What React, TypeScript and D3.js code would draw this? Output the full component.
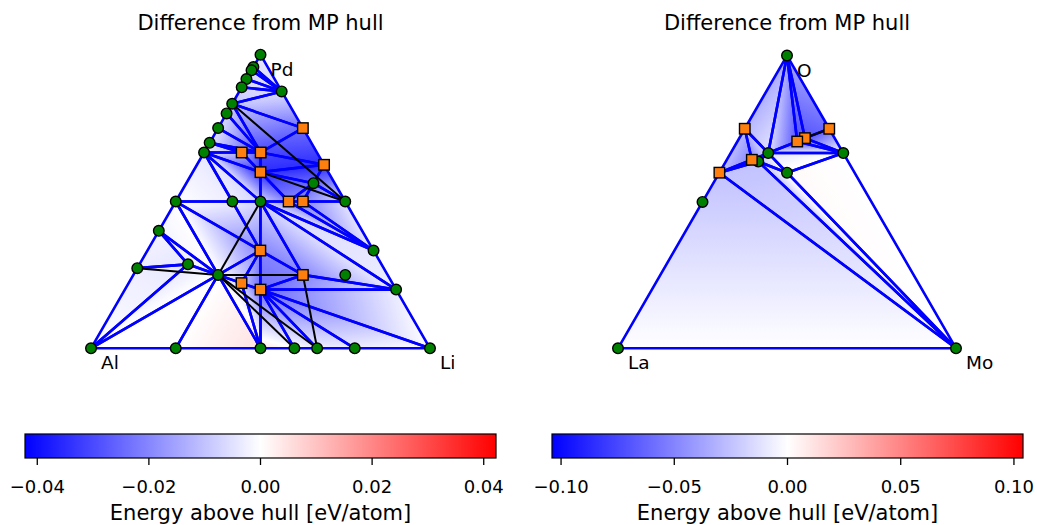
import React from 'react';
import * as d3 from 'd3';

// Al-Li-Pd panel: composition of each phase (Li and Pd fractions, Al is the rest)
const alLiPdLi = [
  0, 1, 0, 0, 0, 0, 0, 0, 0, 0, 0, 0, 0, 0, 0,
  0.125, 0.5, 0.667, 0.8, 0.25, 0.5, 0.6, 0.667, 0.778,
  0.25, 0.167, 0.143, 0.25, 0.625, 0.375,
  0.25, 0.375, 0.111, 0.167, 0.2, 0.333, 0.375, 0.333, 0.5, 0.4, 0.333,
];
const alLiPdPd = [
  0, 0, 1, 0.958, 0.947, 0.917, 0.889, 0.833, 0.8, 0.75, 0.7, 0.667, 0.5, 0.4, 0.273,
  0.875, 0.5, 0.333, 0.2, 0, 0, 0, 0, 0,
  0.5, 0.5, 0.286, 0.25, 0.25, 0.5625,
  0.75, 0.625, 0.667, 0.667, 0.6, 0.5, 0.5, 0.333, 0.25, 0.2, 0.222,
];
// 1 = new phase (square), 0 = MP phase (circle)
const alLiPdNew = [
  0, 0, 0, 0, 0, 0, 0, 0, 0, 0, 0, 0, 0, 0, 0,
  0, 0, 0, 0, 0, 0, 0, 0, 0,
  0, 0, 0, 0, 0, 0,
  1, 1, 1, 1, 1, 1, 1, 1, 1, 1, 1,
];
const alLiPdDiff = [
  0, 0, -0.004, -0.006, -0.006, -0.006, -0.007, -0.009, -0.007, -0.005, -0.004, -0.004, 0, -0.002, -0.003,
  -0.005, -0.005, -0.004, -0.003, 0, 0.005, 0, -0.003, -0.003,
  -0.007, -0.003, -0.004, 0, -0.006, -0.024,
  -0.024, -0.035, -0.012, -0.03, -0.035, -0.02, -0.02, -0.02, -0.02, -0.025, -0.008,
];
const alLiPdTriangles = [
  [2, 3, 15], [3, 4, 15], [4, 5, 15], [5, 6, 15], [6, 7, 15], [7, 15, 30],
  [7, 30, 33], [7, 8, 33], [8, 9, 33], [9, 10, 33], [10, 32, 33], [10, 11, 32],
  [30, 31, 33], [11, 32, 34], [32, 33, 34], [33, 31, 34], [34, 31, 29],
  [31, 29, 16], [29, 36, 16], [34, 29, 35], [29, 36, 35], [34, 35, 24],
  [34, 24, 11], [11, 24, 25], [11, 25, 12],
  [12, 13, 27], [13, 26, 27], [13, 14, 26], [14, 0, 26], [0, 26, 27], [0, 19, 27],
  [19, 20, 27], [27, 40, 20], [40, 39, 20], [39, 20, 21], [39, 21, 22], [39, 22, 23],
  [39, 23, 1], [39, 1, 18], [39, 18, 38], [38, 18, 24], [24, 18, 17], [24, 35, 17],
  [35, 36, 17], [36, 16, 17], [24, 37, 38], [37, 38, 39], [37, 39, 40], [27, 37, 40],
  [12, 27, 37], [12, 37, 25], [25, 37, 24],
];
const alLiPdMpEdges = [
  [7, 16], [34, 16], [24, 27], [27, 38], [27, 21], [27, 22], [38, 22], [14, 27],
];
const alLiPdCorners = ['Al', 'Li', 'Pd'];
const alLiPdTicks = [-0.04, -0.02, 0, 0.02, 0.04];
const alLiPdRange = 0.0422;

// La-Mo-O panel: Mo and O fractions, La is the rest
const laMoOMo = [0, 1, 0, 0, 0.25, 0.194, 0.177, 0.111, 0.333, 0.074, 0.096, 0, 0.2, 0];
const laMoOO = [0, 0, 1, 0.75, 0.75, 0.718, 0.7065, 0.667, 0.667, 0.644, 0.638, 0.6, 0.6, 0.5];
const laMoONew = [0, 0, 0, 1, 1, 1, 1, 0, 0, 1, 0, 1, 0, 0];
const laMoODiff = [0, 0, -0.035, -0.03, -0.06, -0.07, -0.07, -0.012, 0, -0.05, -0.025, -0.025, 0.002, -0.02];
const laMoOTriangles = [
  [2, 3, 7], [2, 7, 6], [2, 6, 5], [2, 5, 4], [5, 8, 4], [6, 8, 5], [7, 8, 6],
  [3, 7, 9], [3, 9, 11], [9, 7, 10], [7, 12, 10], [7, 8, 12], [12, 8, 1],
  [10, 12, 1], [11, 10, 1], [11, 9, 10], [0, 11, 1],
];
const laMoOMpEdges = [[5, 4]];
const laMoOCorners = ['La', 'Mo', 'O'];
const laMoOTicks = [-0.1, -0.05, 0, 0.05, 0.1];
const laMoORange = 0.104;

const FONT = 'DejaVu Sans, sans-serif';

function Panel({ id, left, side, a, b, isNew, diff, tris, mpEdges, corners, ticks, vmax, cbLeft, cbRight }) {
  const base = 348.3;
  const x = d3.scaleLinear().domain([0, 1]).range([left, left + side]);
  const y = d3.scaleLinear().domain([0, 1]).range([base, base - (side * Math.sqrt(3)) / 2]);
  const pts = a.map((ai, i) => [x(ai + b[i] / 2), y(b[i])]);
  const color = d3
    .scaleLinear<string>()
    .domain([-vmax, 0, vmax])
    .range(['#0000ff', '#ffffff', '#ff0000'])
    .clamp(true);
  const line = d3.line();

  // each triangle is filled with a linear gradient that follows the linear
  // interpolation of the vertex values (Gouraud-like shading)
  const shades = tris.map((t, n) => {
    const [p0, p1, p2] = t.map((i) => pts[i]);
    const [f0, f1, f2] = t.map((i) => diff[i]);
    const e1x = p1[0] - p0[0], e1y = p1[1] - p0[1];
    const e2x = p2[0] - p0[0], e2y = p2[1] - p0[1];
    const d1 = f1 - f0, d2 = f2 - f0;
    const det = e1x * e2y - e1y * e2x;
    const gx = (d1 * e2y - d2 * e1y) / det;
    const gy = (e1x * d2 - e2x * d1) / det;
    const gg = gx * gx + gy * gy;
    const path = line([p0, p1, p2]) + 'Z';
    if (!isFinite(gg) || gg < 1e-14) {
      return { path, fill: color(f0), grad: null };
    }
    const fmin = Math.min(f0, f1, f2), fmax = Math.max(f0, f1, f2);
    const s = [p0[0] + (gx * (fmin - f0)) / gg, p0[1] + (gy * (fmin - f0)) / gg];
    const e = [p0[0] + (gx * (fmax - f0)) / gg, p0[1] + (gy * (fmax - f0)) / gg];
    const stops = [[0, color(fmin)]];
    if (fmin < 0 && fmax > 0) stops.push([(0 - fmin) / (fmax - fmin), color(0)]);
    stops.push([1, color(fmax)]);
    const gid = `${id}-g${n}`;
    return { path, fill: `url(#${gid})`, grad: { gid, s, e, stops } };
  });

  const cb = d3.scaleLinear().domain([-vmax, vmax]).range([cbLeft, cbRight]);
  const fmt = (v) => (v < 0 ? '\u2212' : '') + Math.abs(v).toFixed(2);
  const cx = left + side / 2;
  const sq = 10.5;

  return (
    <g>
      <defs>
        {shades.filter((d) => d.grad).map((d) => (
          <linearGradient key={d.grad.gid} id={d.grad.gid} gradientUnits="userSpaceOnUse"
            x1={d.grad.s[0]} y1={d.grad.s[1]} x2={d.grad.e[0]} y2={d.grad.e[1]}>
            {d.grad.stops.map(([o, c], k) => <stop key={k} offset={o} stopColor={c} />)}
          </linearGradient>
        ))}
        <linearGradient id={`${id}-cb`} x1="0" y1="0" x2="1" y2="0">
          <stop offset="0" stopColor={color(-vmax)} />
          <stop offset="0.5" stopColor={color(0)} />
          <stop offset="1" stopColor={color(vmax)} />
        </linearGradient>
      </defs>

      <text x={cx} y={30} textAnchor="middle" fontSize={21} fontFamily={FONT}>Difference from MP hull</text>

      {shades.map((d, n) => (
        <path key={n} d={d.path} fill={d.fill} stroke={d.fill} strokeWidth={0.6} />
      ))}

      {tris.map((t, n) => (
        <path key={n} d={line(t.map((i) => pts[i])) + 'Z'} fill="none" stroke="#0000ff"
          strokeWidth={2.6} strokeLinejoin="round" />
      ))}
      {mpEdges.map((ed, n) => (
        <path key={n} d={line(ed.map((i) => pts[i]))} fill="none" stroke="#000" strokeWidth={2} />
      ))}

      {pts.map((p, i) => (isNew[i] ? null : (
        <circle key={i} cx={p[0]} cy={p[1]} r={5.3} fill="#008000" stroke="#000" strokeWidth={1.4} />
      )))}
      {pts.map((p, i) => (isNew[i] ? (
        <rect key={i} x={p[0] - sq / 2} y={p[1] - sq / 2} width={sq} height={sq}
          fill="#ff7f0e" stroke="#000" strokeWidth={1.4} />
      ) : null))}

      {corners.map((c, i) => (
        <text key={c} x={pts[i][0] + 10} y={pts[i][1] + 21} fontSize={18.5} fontFamily={FONT}>{c}</text>
      ))}

      <rect x={cbLeft} y={434} width={cbRight - cbLeft} height={24} fill={`url(#${id}-cb)`}
        stroke="#000" strokeWidth={1.2} />
      {ticks.map((t) => (
        <g key={t}>
          <line x1={cb(t)} x2={cb(t)} y1={458} y2={465} stroke="#000" strokeWidth={1.3} />
          <text x={cb(t)} y={493} textAnchor="middle" fontSize={18} fontFamily={FONT}>{fmt(t)}</text>
        </g>
      ))}
      <text x={(cbLeft + cbRight) / 2} y={520} textAnchor="middle" fontSize={21} fontFamily={FONT}>
        Energy above hull [eV/atom]
      </text>
    </g>
  );
}

export default function App() {
  return (
    <svg width={1037} height={525} style={{ position: 'absolute', left: 0, top: 0, background: '#fff' }}>
      <Panel id="alp" left={91} side={339} a={alLiPdLi} b={alLiPdPd} isNew={alLiPdNew} diff={alLiPdDiff}
        tris={alLiPdTriangles} mpEdges={alLiPdMpEdges} corners={alLiPdCorners} ticks={alLiPdTicks}
        vmax={alLiPdRange} cbLeft={25} cbRight={496} />
      <Panel id="lmo" left={618} side={338} a={laMoOMo} b={laMoOO} isNew={laMoONew} diff={laMoODiff}
        tris={laMoOTriangles} mpEdges={laMoOMpEdges} corners={laMoOCorners} ticks={laMoOTicks}
        vmax={laMoORange} cbLeft={552} cbRight={1023} />
    </svg>
  );
}
